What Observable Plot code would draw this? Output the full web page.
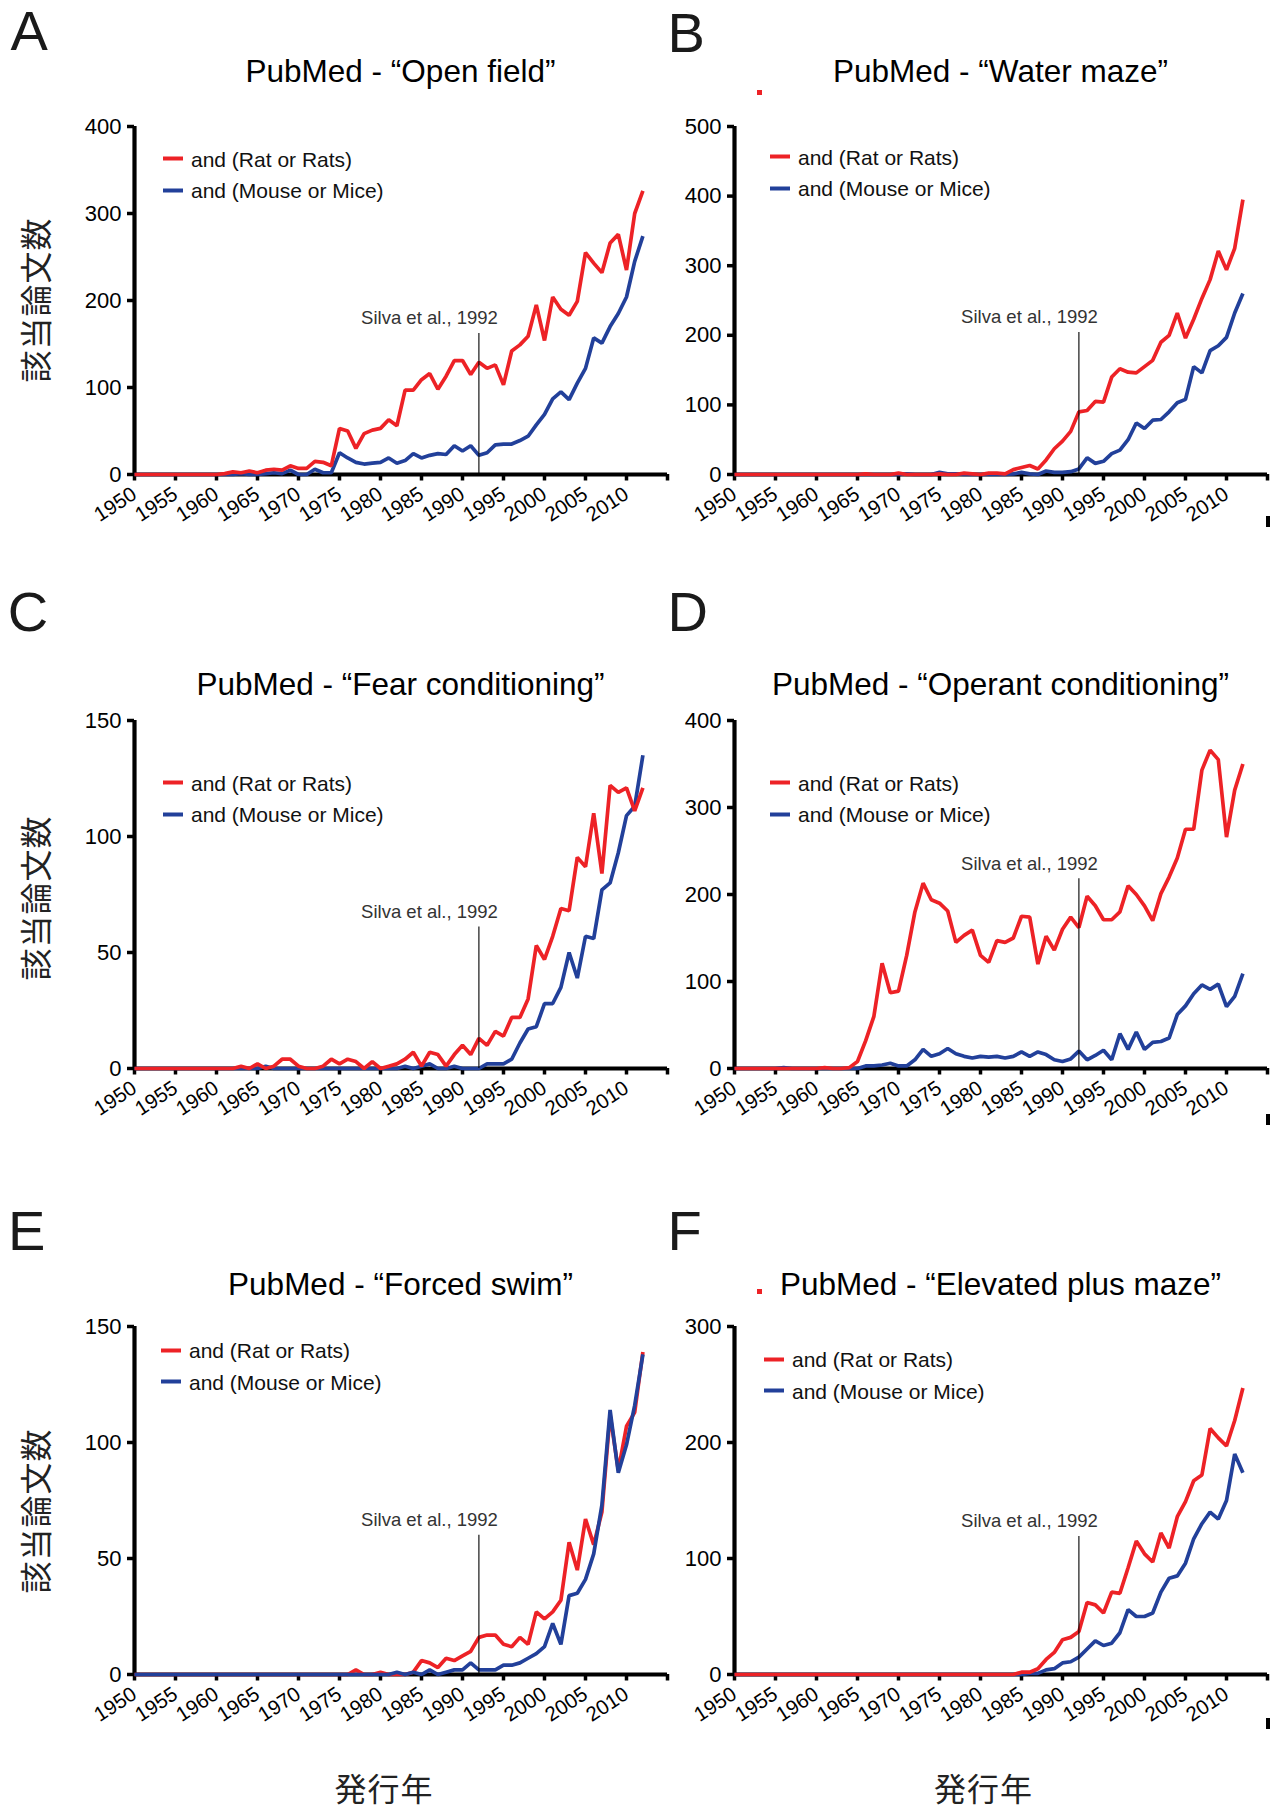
<!DOCTYPE html>
<html>
<head>
<meta charset="utf-8">
<script src="https://cdn.jsdelivr.net/npm/d3@7"></script>
<script src="https://cdn.jsdelivr.net/npm/@observablehq/plot@0.6"></script>
<style>
  body { margin: 0; background: #fff; }
  #fig {
    position: relative; width: 1275px; height: 1810px; overflow: hidden; background: #fff;
    font-family: "Liberation Sans", Arial, Helvetica, sans-serif; color: #111;
  }
  .abs { position: absolute; white-space: nowrap; line-height: 1; }
  .letter { font-size: 56px; color: #1a1a1a; }
  .title { font-size: 31.5px; color: #000; transform: translate(-50%, -50%); }
  .legend-row { font-size: 21px; color: #111; transform: translateY(-50%); display: flex; align-items: center; }
  .swatch { display: inline-block; width: 20px; height: 4px; }
  .ylab, .xlab { font-family: "Noto Sans CJK JP", "Noto Sans CJK SC", sans-serif; font-size: 32px; letter-spacing: 1px; color: #222; }
  .ylab { transform: translate(-50%, -50%) rotate(-90deg); }
  .xlab { transform: translate(-50%, -50%); }
  .panel { position: absolute; }
  .panel svg [aria-label="x-axis tick"], .panel svg [aria-label="y-axis tick"] { stroke-width: 3.5px; }
</style>
</head>
<body>
<div id="fig"></div>
<script>
// Publication years on the x axis
const years = d3.range(1950, 2013);
const xTicks = d3.range(1950, 2016, 5);

// Yearly PubMed hit counts, 1950–2012
const openFieldRat = [
  0,0,0,0,0,0,0,0,0,0,
  0,1,3,2,4,2,5,6,5,10,
  7,7,15,14,10,53,50,30,47,51,
  53,63,56,97,97,109,116,98,113,131,
  131,115,129,122,126,103,142,149,159,195,
  154,204,190,183,199,255,243,232,266,276,
  235,300,326];
const openFieldMouse = [
  0,0,0,0,0,0,0,0,0,0,
  0,0,0,1,0,0,1,2,1,5,
  0,0,6,2,2,25,19,14,12,13,
  14,19,13,16,24,19,22,24,23,33,
  27,33,22,25,34,35,35,39,44,57,
  69,87,95,86,105,122,157,151,170,185,
  204,245,274];

const waterMazeRat = [
  0,0,0,0,0,0,0,0,0,0,
  0,0,0,0,0,0,1,0,0,0,
  2,0,0,0,0,1,0,0,2,1,
  0,2,2,1,7,10,13,8,21,37,
  48,62,90,92,105,104,140,152,147,146,
  155,164,190,200,232,196,223,253,280,321,
  294,325,395];
const waterMazeMouse = [
  0,0,0,0,0,0,0,0,0,0,
  0,0,0,0,0,0,0,0,0,0,
  0,1,0,0,0,3,1,1,0,0,
  0,0,0,0,1,3,1,0,5,3,
  3,4,8,24,16,19,30,35,50,74,
  66,78,79,90,103,108,155,146,178,185,
  197,232,260];

const fearRat = [
  0,0,0,0,0,0,0,0,0,0,
  0,0,0,1,0,2,0,1,4,4,
  1,0,0,1,4,2,4,3,0,3,
  0,1,2,4,7,1,7,6,1,6,
  10,6,13,10,16,14,22,22,30,53,
  47,57,69,68,91,87,110,84,122,119,
  121,111,121];
const fearMouse = [
  0,0,0,0,0,0,0,0,0,0,
  0,0,0,0,0,0,1,0,0,0,
  0,0,0,0,0,0,0,0,0,0,
  0,0,0,1,0,1,2,0,0,1,
  0,0,0,2,2,2,4,11,17,18,
  28,28,35,50,39,57,56,77,80,93,
  109,113,135];

const operantRat = [
  0,0,0,0,0,0,0,0,0,0,
  0,1,0,0,1,8,32,60,121,87,
  89,130,180,213,194,190,181,145,153,159,
  130,122,147,145,150,175,174,120,152,136,
  160,174,162,198,187,171,171,180,210,200,
  187,170,201,220,242,275,275,343,366,355,
  266,320,350];
const operantMouse = [
  0,0,0,0,0,0,1,0,0,0,
  0,0,0,0,0,0,3,3,4,6,
  3,3,10,22,14,17,23,17,14,12,
  14,13,14,12,14,19,14,19,16,10,
  8,11,20,10,15,21,10,40,22,42,
  22,30,31,35,62,72,86,96,91,97,
  71,83,109];

const swimRat = [
  0,0,0,0,0,0,0,0,0,0,
  0,0,0,0,0,0,0,0,0,0,
  0,0,0,0,0,0,0,2,0,0,
  1,0,0,0,1,6,5,3,7,6,
  8,10,16,17,17,13,12,16,13,27,
  24,27,32,57,45,67,56,70,112,88,
  107,113,139];
const swimMouse = [
  0,0,0,0,0,0,0,0,0,0,
  0,0,0,0,0,0,0,0,0,0,
  0,0,0,0,0,0,0,0,0,0,
  0,0,1,0,1,0,2,0,1,2,
  2,5,2,2,2,4,4,5,7,9,
  12,22,13,34,35,41,52,73,114,87,
  99,116,138];

const plusMazeRat = [
  0,0,0,0,0,0,0,0,0,0,
  0,0,0,0,0,0,0,0,0,0,
  0,0,0,0,0,0,0,0,0,0,
  0,0,0,0,0,2,2,5,13,19,
  30,32,37,62,60,53,71,70,92,115,
  104,97,122,109,136,149,167,172,212,204,
  197,219,247];
const plusMazeMouse = [
  0,0,0,0,0,0,0,0,0,0,
  0,0,0,0,0,0,0,0,0,0,
  0,0,0,0,0,0,0,0,0,0,
  0,0,0,0,0,0,1,1,4,5,
  10,11,15,22,29,25,27,36,56,50,
  50,53,71,83,85,96,117,130,140,134,
  150,190,174];

// Panel letters, titles, y-axis extents and the Silva et al. marker height
const panelLetters = ["A", "B", "C", "D", "E", "F"];
const panelTitles = [
  "PubMed - “Open field”",
  "PubMed - “Water maze”",
  "PubMed - “Fear conditioning”",
  "PubMed - “Operant conditioning”",
  "PubMed - “Forced swim”",
  "PubMed - “Elevated plus maze”"
];
const ratSeries = [openFieldRat, waterMazeRat, fearRat, operantRat, swimRat, plusMazeRat];
const mouseSeries = [openFieldMouse, waterMazeMouse, fearMouse, operantMouse, swimMouse, plusMazeMouse];
const yMaxes = [400, 500, 150, 400, 150, 300];
const ySteps = [100, 100, 50, 100, 50, 100];
const silvaHeights = [162, 204, 61, 218, 60, 119];
const silvaYear = 1992;
const silvaLabel = "Silva et al., 1992";
const legendLabels = ["and (Rat or Rats)", "and (Mouse or Mice)"];
const yAxisLabel = "該当論文数";
const xAxisLabel = "発行年";

const RED = "#ED2226";
const BLUE = "#22409A";

// Page layout (pixels)
const colLeft = [0, 600];
const rowTop = [96, 690, 1296];
const M = {left: 134, right: 8, top: 30, bottom: 70};
const W = 675, FRAME_H = 348, H = M.top + FRAME_H + M.bottom;
const titleOffset = [-54, -54, -35.5, -35.5, -41, -41];
const legendTop = [32.5, 30.7, 62.8, 62.8, 24, 33];
const legendLeft = [29, 36, 29, 36, 27, 30];
const blueOnTop = [false, false, false, false, true, false];

const fig = document.getElementById("fig");

function addDiv(cls, text, left, top, extraStyle = "") {
  const el = document.createElement("div");
  el.className = "abs " + cls;
  el.textContent = text;
  el.style.cssText += `left:${left}px;top:${top}px;${extraStyle}`;
  fig.appendChild(el);
  return el;
}

panelLetters.forEach((letter, i) => {
  const col = i % 2, row = Math.floor(i / 2);
  const left = colLeft[col], top = rowTop[row];
  const frameLeft = left + M.left;
  const frameTop = top + M.top;
  const frameRight = left + W - M.right;

  const rows = years.map((year, j) => ({year, rat: ratSeries[i][j], mouse: mouseSeries[i][j]}));
  const yMax = yMaxes[i];

  const ratLine = Plot.line(rows, {x: "year", y: "rat", stroke: RED, strokeWidth: 3.7, strokeLinejoin: "miter", strokeLinecap: "butt"});
  const mouseLine = Plot.line(rows, {x: "year", y: "mouse", stroke: BLUE, strokeWidth: 3.7, strokeLinejoin: "miter", strokeLinecap: "butt"});

  const chart = Plot.plot({
    width: W,
    height: H,
    marginLeft: M.left,
    marginRight: M.right,
    marginTop: M.top,
    marginBottom: M.bottom,
    style: {background: "transparent", color: "#000", fontFamily: "'Liberation Sans', Arial, Helvetica, sans-serif", overflow: "visible"},
    x: {domain: [1950, 2015]},
    y: {domain: [0, yMax]},
    marks: [
      Plot.axisX({ticks: xTicks, tickFormat: d => d === 2015 ? "" : String(d), tickSize: 6.5, tickPadding: 11,
                  tickRotate: -33, fontSize: 20.5, label: null, strokeWidth: 3.5}),
      Plot.axisY({ticks: d3.range(0, yMax + 1, ySteps[i]), tickFormat: d => String(d), tickSize: 7, tickPadding: 6,
                  fontSize: 22, label: null, strokeWidth: 3.5}),
      Plot.ruleY([0], {stroke: "#000", strokeWidth: 4.2}),
      Plot.ruleX([1950], {y1: 0, y2: yMax, stroke: "#000", strokeWidth: 4.2}),
      ...(blueOnTop[i] ? [ratLine, mouseLine] : [mouseLine, ratLine]),
      Plot.ruleX([silvaYear], {y1: 0, y2: silvaHeights[i], stroke: "#000", strokeWidth: 1.1}),
      Plot.text([silvaLabel], {x: () => silvaYear, y: () => silvaHeights[i], text: d => d, textAnchor: "end",
                               dx: 19, dy: -15, fontSize: 18.5, fill: "#333"})
    ]
  });

  const holder = document.createElement("div");
  holder.className = "panel";
  holder.style.left = left + "px";
  holder.style.top = top + "px";
  holder.appendChild(chart);
  fig.appendChild(holder);

  // Panel letter
  const letterX = {A: 10.5, B: 667.5, C: 7.7, D: 667.5, E: 8, F: 667.5}[letter];
  const letterTop = [3, 5, 583.5, 583.5, 1202.5, 1202.5][i];
  addDiv("letter", letter, letterX, letterTop);

  // Title centred over the plotting frame
  addDiv("title", panelTitles[i], (frameLeft + frameRight) / 2, frameTop + titleOffset[i]);

  // Legend
  [RED, BLUE].forEach((color, k) => {
    const el = document.createElement("div");
    el.className = "abs legend-row";
    el.style.left = (frameLeft + legendLeft[i]) + "px";
    el.style.top = (frameTop + legendTop[i] + k * 31.5) + "px";
    const sw = document.createElement("span");
    sw.className = "swatch";
    sw.style.background = color;
    sw.style.marginRight = "8px";
    const tx = document.createElement("span");
    tx.textContent = legendLabels[k];
    el.appendChild(sw);
    el.appendChild(tx);
    fig.appendChild(el);
  });

  // Axis titles: y on the left column, x under the bottom row
  if (col === 0) addDiv("ylab", yAxisLabel, 33.5, [300, 898, 1511][row]);
  if (row === 2) addDiv("xlab", xAxisLabel, [384, 983.5][col], 1787);
});

// Small stray marks printed on the figure sheet
[[757, 90, 5, 5, RED], [757, 1289, 5, 5, RED],
 [1266, 516, 4, 11, "#000"], [1266, 1114, 4, 11, "#000"], [1266, 1718, 4, 11, "#000"]]
  .forEach(([x, y, w, h, c]) => {
    const el = document.createElement("div");
    el.className = "abs";
    el.style.cssText += `left:${x}px;top:${y}px;width:${w}px;height:${h}px;background:${c};`;
    fig.appendChild(el);
  });
</script>
</body>
</html>
